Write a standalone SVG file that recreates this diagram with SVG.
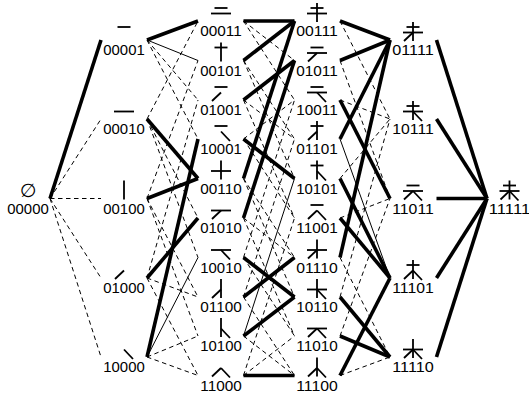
<svg xmlns="http://www.w3.org/2000/svg" xmlns:xlink="http://www.w3.org/1999/xlink" width="529" height="397" viewBox="0 0 529 397">
<style>
.e line{fill:none;stroke:#000}
.k{stroke-width:3.6}
.t{stroke-width:1}
.d{stroke-width:1;stroke-dasharray:4.5 3.5}
.s{stroke:#000;stroke-width:1.8;fill:none}
text{font-family:"Liberation Sans",Arial,sans-serif;font-size:14px;text-anchor:middle;fill:#000}
</style>
<defs>
<path id="h1" class="s" d="M-6.5,-13H6.5"/>
<path id="h2" class="s" d="M-10,-7.5H10"/>
<path id="v" class="s" d="M0,-18V1"/>
<path id="l" class="s" d="M0,-7.5L-9,1"/>
<path id="r" class="s" d="M0,-7.5L9,2"/>
</defs>
<rect width="529" height="397" fill="#fff"/>
<g class="e" id="connectors">
<line class="k" x1="50" y1="198.5" x2="101" y2="40"/>
<line class="d" x1="50" y1="198.5" x2="101" y2="119"/>
<line class="d" x1="50" y1="198.5" x2="101" y2="198.5"/>
<line class="d" x1="50" y1="198.5" x2="101" y2="278"/>
<line class="d" x1="50" y1="198.5" x2="101" y2="357"/>

<line class="k" x1="147" y1="40" x2="198" y2="21"/>
<line class="t" x1="147" y1="40" x2="198" y2="60.5"/>
<line class="d" x1="147" y1="40" x2="198" y2="100"/>
<line class="d" x1="147" y1="40" x2="198" y2="139"/>
<line class="d" x1="147" y1="119" x2="198" y2="21"/>
<line class="k" x1="147" y1="119" x2="198" y2="178.5"/>
<line class="d" x1="147" y1="119" x2="198" y2="218"/>
<line class="d" x1="147" y1="119" x2="198" y2="257.5"/>
<line class="d" x1="147" y1="198.5" x2="198" y2="60.5"/>
<line class="k" x1="147" y1="198.5" x2="198" y2="178.5"/>
<line class="d" x1="147" y1="198.5" x2="198" y2="297"/>
<line class="d" x1="147" y1="198.5" x2="198" y2="336"/>
<line class="d" x1="147" y1="278" x2="198" y2="100"/>
<line class="k" x1="147" y1="278" x2="198" y2="218"/>
<line class="d" x1="147" y1="278" x2="198" y2="297"/>
<line class="d" x1="147" y1="278" x2="198" y2="375.5"/>
<line class="k" x1="147" y1="357" x2="198" y2="139"/>
<line class="t" x1="147" y1="357" x2="198" y2="257.5"/>
<line class="d" x1="147" y1="357" x2="198" y2="336"/>
<line class="d" x1="147" y1="357" x2="198" y2="375.5"/>

<line class="k" x1="243.5" y1="21" x2="294.5" y2="21"/>
<line class="d" x1="243.5" y1="21" x2="294.5" y2="60.5"/>
<line class="d" x1="243.5" y1="21" x2="294.5" y2="100"/>
<line class="k" x1="243.5" y1="60.5" x2="294.5" y2="21"/>
<line class="d" x1="243.5" y1="60.5" x2="294.5" y2="139"/>
<line class="d" x1="243.5" y1="60.5" x2="294.5" y2="178.5"/>
<line class="k" x1="243.5" y1="100" x2="294.5" y2="60.5"/>
<line class="d" x1="243.5" y1="100" x2="294.5" y2="139"/>
<line class="d" x1="243.5" y1="100" x2="294.5" y2="218"/>
<line class="d" x1="243.5" y1="139" x2="294.5" y2="100"/>
<line class="k" x1="243.5" y1="139" x2="294.5" y2="178.5"/>
<line class="d" x1="243.5" y1="139" x2="294.5" y2="218"/>
<line class="k" x1="243.5" y1="178.5" x2="294.5" y2="21"/>
<line class="d" x1="243.5" y1="178.5" x2="294.5" y2="257.5"/>
<line class="d" x1="243.5" y1="178.5" x2="294.5" y2="297"/>
<line class="k" x1="243.5" y1="218" x2="294.5" y2="60.5"/>
<line class="d" x1="243.5" y1="218" x2="294.5" y2="257.5"/>
<line class="d" x1="243.5" y1="218" x2="294.5" y2="336"/>
<line class="d" x1="243.5" y1="257.5" x2="294.5" y2="100"/>
<line class="k" x1="243.5" y1="257.5" x2="294.5" y2="297"/>
<line class="d" x1="243.5" y1="257.5" x2="294.5" y2="336"/>
<line class="d" x1="243.5" y1="297" x2="294.5" y2="139"/>
<line class="k" x1="243.5" y1="297" x2="294.5" y2="257.5"/>
<line class="d" x1="243.5" y1="297" x2="294.5" y2="375.5"/>
<line class="t" x1="243.5" y1="336" x2="294.5" y2="178.5"/>
<line class="k" x1="243.5" y1="336" x2="294.5" y2="297"/>
<line class="d" x1="243.5" y1="336" x2="294.5" y2="375.5"/>
<line class="d" x1="243.5" y1="375.5" x2="294.5" y2="218"/>
<line class="d" x1="243.5" y1="375.5" x2="294.5" y2="336"/>
<line class="k" x1="243.5" y1="375.5" x2="294.5" y2="375.5"/>

<line class="k" x1="340" y1="21" x2="390" y2="40"/>
<line class="d" x1="340" y1="21" x2="390" y2="119"/>
<line class="k" x1="340" y1="60.5" x2="390" y2="40"/>
<line class="d" x1="340" y1="60.5" x2="390" y2="198.5"/>
<line class="d" x1="340" y1="100" x2="390" y2="119"/>
<line class="k" x1="340" y1="100" x2="390" y2="198.5"/>
<line class="k" x1="340" y1="139" x2="390" y2="40"/>
<line class="t" x1="340" y1="139" x2="390" y2="278"/>
<line class="d" x1="340" y1="178.5" x2="390" y2="119"/>
<line class="k" x1="340" y1="178.5" x2="390" y2="278"/>
<line class="d" x1="340" y1="218" x2="390" y2="198.5"/>
<line class="k" x1="340" y1="218" x2="390" y2="278"/>
<line class="k" x1="340" y1="257.5" x2="390" y2="40"/>
<line class="d" x1="340" y1="257.5" x2="390" y2="357"/>
<line class="d" x1="340" y1="297" x2="390" y2="119"/>
<line class="k" x1="340" y1="297" x2="390" y2="357"/>
<line class="d" x1="340" y1="336" x2="390" y2="198.5"/>
<line class="k" x1="340" y1="336" x2="390" y2="357"/>
<line class="k" x1="340" y1="375.5" x2="390" y2="278"/>
<line class="d" x1="340" y1="375.5" x2="390" y2="357"/>

<line class="k" x1="436.5" y1="40" x2="487" y2="198.5"/>
<line class="k" x1="436.5" y1="119" x2="487" y2="198.5"/>
<line class="k" x1="436.5" y1="198.5" x2="487" y2="198.5"/>
<line class="k" x1="436.5" y1="278" x2="487" y2="198.5"/>
<line class="k" x1="436.5" y1="357" x2="487" y2="198.5"/>
</g>

<g id="n00000" transform="translate(28,198.5)"><text y="-2" style="font-family:'DejaVu Sans',sans-serif;font-size:19px">∅</text><text y="15" textLength="41.5" lengthAdjust="spacingAndGlyphs">00000</text></g>

<g id="n00001" transform="translate(124,40)"><use xlink:href="#h1"/><text y="15" textLength="41.5" lengthAdjust="spacingAndGlyphs">00001</text></g>
<g id="n00010" transform="translate(124,119)"><use xlink:href="#h2"/><text y="15" textLength="41.5" lengthAdjust="spacingAndGlyphs">00010</text></g>
<g id="n00100" transform="translate(124,198.5)"><use xlink:href="#v"/><text y="15" textLength="41.5" lengthAdjust="spacingAndGlyphs">00100</text></g>
<g id="n01000" transform="translate(124,278)"><use xlink:href="#l"/><text y="15" textLength="41.5" lengthAdjust="spacingAndGlyphs">01000</text></g>
<g id="n10000" transform="translate(124,357)"><use xlink:href="#r"/><text y="15" textLength="41.5" lengthAdjust="spacingAndGlyphs">10000</text></g>

<g id="n00011" transform="translate(221,21)"><use xlink:href="#h1"/><use xlink:href="#h2"/><text y="15" textLength="41.5" lengthAdjust="spacingAndGlyphs">00011</text></g>
<g id="n00101" transform="translate(221,60.5)"><use xlink:href="#h1"/><use xlink:href="#v"/><text y="15" textLength="41.5" lengthAdjust="spacingAndGlyphs">00101</text></g>
<g id="n01001" transform="translate(221,100)"><use xlink:href="#h1"/><use xlink:href="#l"/><text y="15" textLength="41.5" lengthAdjust="spacingAndGlyphs">01001</text></g>
<g id="n10001" transform="translate(221,139)"><use xlink:href="#h1"/><use xlink:href="#r"/><text y="15" textLength="41.5" lengthAdjust="spacingAndGlyphs">10001</text></g>
<g id="n00110" transform="translate(221,178.5)"><use xlink:href="#h2"/><use xlink:href="#v"/><text y="15" textLength="41.5" lengthAdjust="spacingAndGlyphs">00110</text></g>
<g id="n01010" transform="translate(221,218)"><use xlink:href="#h2"/><use xlink:href="#l"/><text y="15" textLength="41.5" lengthAdjust="spacingAndGlyphs">01010</text></g>
<g id="n10010" transform="translate(221,257.5)"><use xlink:href="#h2"/><use xlink:href="#r"/><text y="15" textLength="41.5" lengthAdjust="spacingAndGlyphs">10010</text></g>
<g id="n01100" transform="translate(221,297)"><use xlink:href="#v"/><use xlink:href="#l"/><text y="15" textLength="41.5" lengthAdjust="spacingAndGlyphs">01100</text></g>
<g id="n10100" transform="translate(221,336)"><use xlink:href="#v"/><use xlink:href="#r"/><text y="15" textLength="41.5" lengthAdjust="spacingAndGlyphs">10100</text></g>
<g id="n11000" transform="translate(221,375.5)"><use xlink:href="#l"/><use xlink:href="#r"/><text y="15" textLength="41.5" lengthAdjust="spacingAndGlyphs">11000</text></g>

<g id="n00111" transform="translate(317,21)"><use xlink:href="#h1"/><use xlink:href="#h2"/><use xlink:href="#v"/><text y="15" textLength="41.5" lengthAdjust="spacingAndGlyphs">00111</text></g>
<g id="n01011" transform="translate(317,60.5)"><use xlink:href="#h1"/><use xlink:href="#h2"/><use xlink:href="#l"/><text y="15" textLength="41.5" lengthAdjust="spacingAndGlyphs">01011</text></g>
<g id="n10011" transform="translate(317,100)"><use xlink:href="#h1"/><use xlink:href="#h2"/><use xlink:href="#r"/><text y="15" textLength="41.5" lengthAdjust="spacingAndGlyphs">10011</text></g>
<g id="n01101" transform="translate(317,139)"><use xlink:href="#h1"/><use xlink:href="#v"/><use xlink:href="#l"/><text y="15" textLength="41.5" lengthAdjust="spacingAndGlyphs">01101</text></g>
<g id="n10101" transform="translate(317,178.5)"><use xlink:href="#h1"/><use xlink:href="#v"/><use xlink:href="#r"/><text y="15" textLength="41.5" lengthAdjust="spacingAndGlyphs">10101</text></g>
<g id="n11001" transform="translate(317,218)"><use xlink:href="#h1"/><use xlink:href="#l"/><use xlink:href="#r"/><text y="15" textLength="41.5" lengthAdjust="spacingAndGlyphs">11001</text></g>
<g id="n01110" transform="translate(317,257.5)"><use xlink:href="#h2"/><use xlink:href="#v"/><use xlink:href="#l"/><text y="15" textLength="41.5" lengthAdjust="spacingAndGlyphs">01110</text></g>
<g id="n10110" transform="translate(317,297)"><use xlink:href="#h2"/><use xlink:href="#v"/><use xlink:href="#r"/><text y="15" textLength="41.5" lengthAdjust="spacingAndGlyphs">10110</text></g>
<g id="n11010" transform="translate(317,336)"><use xlink:href="#h2"/><use xlink:href="#l"/><use xlink:href="#r"/><text y="15" textLength="41.5" lengthAdjust="spacingAndGlyphs">11010</text></g>
<g id="n11100" transform="translate(317,375.5)"><use xlink:href="#v"/><use xlink:href="#l"/><use xlink:href="#r"/><text y="15" textLength="41.5" lengthAdjust="spacingAndGlyphs">11100</text></g>

<g id="n01111" transform="translate(413,40)"><use xlink:href="#h1"/><use xlink:href="#h2"/><use xlink:href="#v"/><use xlink:href="#l"/><text y="15" textLength="41.5" lengthAdjust="spacingAndGlyphs">01111</text></g>
<g id="n10111" transform="translate(413,119)"><use xlink:href="#h1"/><use xlink:href="#h2"/><use xlink:href="#v"/><use xlink:href="#r"/><text y="15" textLength="41.5" lengthAdjust="spacingAndGlyphs">10111</text></g>
<g id="n11011" transform="translate(413,198.5)"><use xlink:href="#h1"/><use xlink:href="#h2"/><use xlink:href="#l"/><use xlink:href="#r"/><text y="15" textLength="41.5" lengthAdjust="spacingAndGlyphs">11011</text></g>
<g id="n11101" transform="translate(413,278)"><use xlink:href="#h1"/><use xlink:href="#v"/><use xlink:href="#l"/><use xlink:href="#r"/><text y="15" textLength="41.5" lengthAdjust="spacingAndGlyphs">11101</text></g>
<g id="n11110" transform="translate(413,357)"><use xlink:href="#h2"/><use xlink:href="#v"/><use xlink:href="#l"/><use xlink:href="#r"/><text y="15" textLength="41.5" lengthAdjust="spacingAndGlyphs">11110</text></g>

<g id="n11111" transform="translate(509.5,198.5)"><use xlink:href="#h1"/><use xlink:href="#h2"/><use xlink:href="#v"/><use xlink:href="#l"/><use xlink:href="#r"/><text y="15" textLength="41.5" lengthAdjust="spacingAndGlyphs">11111</text></g>
</svg>
